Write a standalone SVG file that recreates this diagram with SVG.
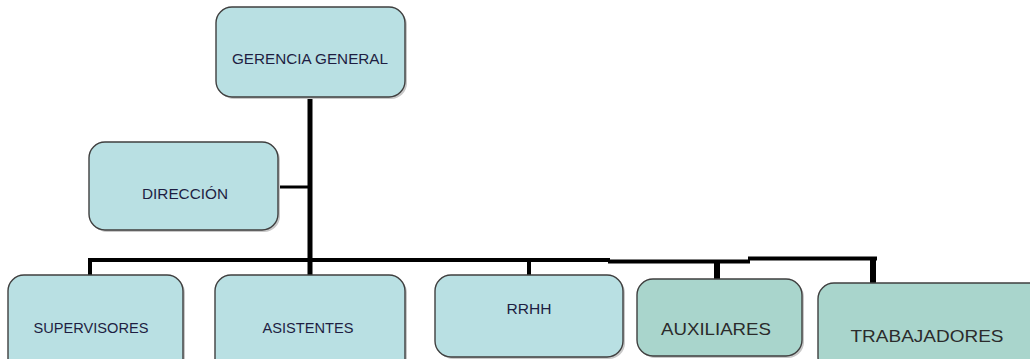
<svg xmlns="http://www.w3.org/2000/svg" width="1030" height="359" viewBox="0 0 1030 359">
<style>
.box{fill:#b9e0e3;stroke:#3f3f3f;stroke-width:1.4}
.box2{fill:#a9d5cc;stroke:#3f3f3f;stroke-width:1.4}
.sh{fill:#c8c8c8;stroke:none}
.t{font-family:"Liberation Sans",Arial,sans-serif;font-size:14px;fill:#1e1e42;text-anchor:middle}
.tb{font-family:"Liberation Sans",Arial,sans-serif;font-size:16.5px;fill:#2b2b2b;text-anchor:middle}
.c{stroke:#000;fill:none;stroke-linecap:butt}
</style>
<rect width="1030" height="359" fill="#ffffff"/>
<g id="connectors">
<line class="c" x1="310" y1="97" x2="310" y2="275" stroke-width="5"/>
<line class="c" x1="278" y1="187" x2="310" y2="187" stroke-width="3"/>
<polyline class="c" points="88,260 610,260" stroke-width="4"/>
<polyline class="c" points="608,261.5 750,261.5" stroke-width="4"/>
<polyline class="c" points="748,258.5 877,258.5" stroke-width="4"/>
<line class="c" x1="90" y1="258" x2="90" y2="275" stroke-width="4"/>
<line class="c" x1="529" y1="260" x2="529" y2="275" stroke-width="4"/>
<line class="c" x1="717" y1="260" x2="717" y2="281" stroke-width="6"/>
<line class="c" x1="873" y1="257" x2="873" y2="285" stroke-width="6"/>
</g>
<g id="gerencia">
<rect class="sh" x="218" y="9" width="189" height="90" rx="16"/>
<rect class="box" x="216" y="7" width="189" height="90" rx="16"/>
<text class="t" x="310" y="64" textLength="156" lengthAdjust="spacingAndGlyphs">GERENCIA GENERAL</text>
</g>
<g id="direccion">
<rect class="sh" x="91" y="144" width="189" height="88" rx="16"/>
<rect class="box" x="89" y="142" width="189" height="88" rx="16"/>
<text class="t" x="185" y="199" textLength="86" lengthAdjust="spacingAndGlyphs">DIRECCIÓN</text>
</g>
<g id="supervisores">
<rect class="sh" x="10" y="277" width="175" height="100" rx="16"/>
<rect class="box" x="8" y="275" width="175" height="100" rx="16"/>
<text class="t" x="91" y="333" textLength="115" lengthAdjust="spacingAndGlyphs">SUPERVISORES</text>
</g>
<g id="asistentes">
<rect class="sh" x="217" y="277" width="190" height="100" rx="16"/>
<rect class="box" x="215" y="275" width="190" height="100" rx="16"/>
<text class="t" x="308" y="333" textLength="91" lengthAdjust="spacingAndGlyphs">ASISTENTES</text>
</g>
<g id="rrhh">
<rect class="sh" x="437" y="277" width="188" height="82" rx="16"/>
<rect class="box" x="435" y="275" width="188" height="82" rx="16"/>
<text class="t" x="529" y="314" textLength="45" lengthAdjust="spacingAndGlyphs">RRHH</text>
</g>
<g id="auxiliares">
<rect class="sh" x="639" y="281" width="165" height="77" rx="16"/>
<rect class="box2" x="637" y="279" width="165" height="77" rx="16"/>
<text class="tb" x="716" y="335" textLength="110" lengthAdjust="spacingAndGlyphs">AUXILIARES</text>
</g>
<g id="trabajadores">
<rect class="sh" x="820" y="285" width="230" height="90" rx="16"/>
<rect class="box2" x="818" y="283" width="230" height="90" rx="16"/>
<text class="tb" x="927" y="342" textLength="153" lengthAdjust="spacingAndGlyphs">TRABAJADORES</text>
</g>
</svg>
